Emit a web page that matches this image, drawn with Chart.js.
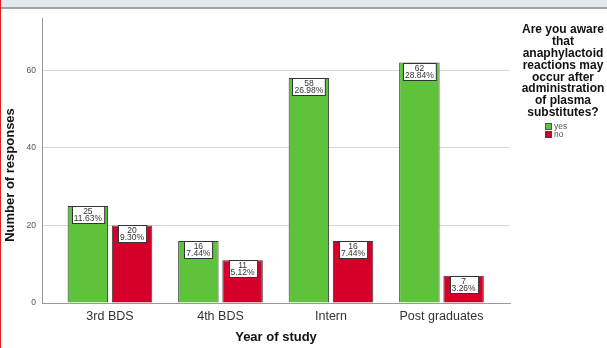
<!DOCTYPE html>
<html>
<head>
<meta charset="utf-8">
<script src="https://cdn.jsdelivr.net/npm/chart.js@4/dist/chart.umd.min.js"></script>
<style>
  html, body { margin: 0; padding: 0; background: #fff; }
  #wrap { position: relative; width: 607px; height: 348px; overflow: hidden; }
  #topbar { position: absolute; left: 0; top: 0; width: 607px; height: 7px; background: #e3e9f1; border-bottom: 2px solid #a4a4a4; z-index: 2; }
  #edge { position: absolute; left: 0; top: 0; width: 1px; height: 348px; background: #e02020; z-index: 3; }
  canvas { position: absolute; left: 0; top: 0; }
</style>
</head>
<body>
<div id="wrap">
  <div id="topbar"></div>
  <div id="edge"></div>
  <canvas id="chart" width="607" height="348"></canvas>
</div>
<script>
const categories = ["3rd BDS", "4th BDS", "Intern", "Post graduates"];
const yesCounts = [25, 16, 58, 62];
const noCounts = [20, 11, 16, 7];
const yTicks = [0, 20, 40, 60];
const seriesNames = ["yes", "no"];
const legendTitle = ["Are you aware", "that", "anaphylactoid", "reactions may", "occur after", "administration", "of plasma", "substitutes?"];

const green = "#5ec23a";
const red = "#d5002a";
const total = yesCounts.concat(noCounts).reduce((a, b) => a + b, 0);

function points(values) {
  return values.map((v, i) => ({ x: i, y: v }));
}

// Value + percentage boxes at the top of each bar
const valueBoxes = {
  id: "valueBoxes",
  afterDatasetsDraw(chart) {
    const ctx = chart.ctx;
    ctx.save();
    ctx.font = "8.5px 'Liberation Sans', Arial, sans-serif";
    ctx.textAlign = "center";
    ctx.textBaseline = "middle";
    chart.data.datasets.forEach((ds, di) => {
      chart.getDatasetMeta(di).data.forEach((bar, i) => {
        const v = ds.data[i].y;
        const lines = [String(v), (v / total * 100).toFixed(2) + "%"];
        const w = Math.max(...lines.map(t => ctx.measureText(t).width)) + 4;
        const h = 17;
        const x0 = Math.round(bar.x - w / 2) + 0.5;
        const y0 = Math.round(bar.y) + 0.5;
        ctx.fillStyle = "#fff";
        ctx.fillRect(x0, y0, w, h);
        ctx.strokeStyle = "#333";
        ctx.lineWidth = 1;
        ctx.strokeRect(x0, y0, w, h);
        ctx.fillStyle = "#333";
        ctx.fillText(lines[0], bar.x, y0 + 4.8);
        ctx.fillText(lines[1], bar.x, y0 + 12.6);
      });
    });
    ctx.restore();
  }
};

// Axis titles and the legend block on the right
const annotations = {
  id: "annotations",
  afterDraw(chart) {
    const ctx = chart.ctx;
    const area = chart.chartArea;
    ctx.save();
    ctx.fillStyle = "#111";
    ctx.textAlign = "center";
    ctx.textBaseline = "middle";
    ctx.font = "bold 13px 'Liberation Sans', Arial, sans-serif";
    ctx.fillText("Year of study", (area.left + area.right) / 2, 337);

    ctx.save();
    ctx.translate(10, 175);
    ctx.rotate(-Math.PI / 2);
    ctx.fillText("Number of responses", 0, 0);
    ctx.restore();

    ctx.font = "bold 12px 'Liberation Sans', Arial, sans-serif";
    legendTitle.forEach((line, i) => ctx.fillText(line, 563, 30 + i * 11.8));

    ctx.font = "8.5px 'Liberation Sans', Arial, sans-serif";
    ctx.textAlign = "left";
    chart.data.datasets.forEach((ds, i) => {
      const y = 123 + i * 8;
      ctx.fillStyle = ds.backgroundColor;
      ctx.fillRect(545, y, 7, 7);
      ctx.strokeStyle = "#444";
      ctx.lineWidth = 0.8;
      ctx.strokeRect(545.5, y + 0.5, 6, 6);
      ctx.fillStyle = "#555";
      ctx.fillText(ds.label, 554, y + 3.8);
    });
    ctx.restore();
  }
};

new Chart(document.getElementById("chart"), {
  type: "bar",
  data: {
    datasets: [
      { label: seriesNames[0], data: points(yesCounts), backgroundColor: green, borderColor: "#3a3a3a", borderWidth: 1 },
      { label: seriesNames[1], data: points(noCounts), backgroundColor: red, borderColor: "#3a3a3a", borderWidth: 1 }
    ]
  },
  options: {
    responsive: false,
    animation: false,
    categoryPercentage: 0.8,
    barPercentage: 0.915,
    layout: { padding: { left: 0, top: 18, right: 97, bottom: 0 } },
    plugins: { legend: { display: false }, tooltip: { enabled: false } },
    scales: {
      x: {
        type: "linear",
        offset: false,
        min: -0.615,
        max: 3.62,
        afterFit: s => { s.height = 45; },
        afterBuildTicks: s => { s.ticks = categories.map((c, i) => ({ value: i })); },
        grid: { color: "transparent", drawTicks: false, offset: false },
        border: { color: "#9a9a9a" },
        ticks: {
          padding: 6,
          color: "#333",
          font: { family: "'Liberation Sans', Arial, sans-serif", size: 12.5 },
          callback: v => categories[v]
        }
      },
      y: {
        min: 0,
        max: 73.5,
        afterFit: s => { s.width = 42; },
        afterBuildTicks: s => { s.ticks = yTicks.map(v => ({ value: v })); },
        grid: { color: "#d8d8d8", drawTicks: false },
        border: { color: "#9a9a9a" },
        ticks: {
          padding: 6,
          color: "#555",
          font: { family: "'Liberation Sans', Arial, sans-serif", size: 8.5 }
        }
      }
    }
  },
  plugins: [valueBoxes, annotations]
});
</script>
</body>
</html>
